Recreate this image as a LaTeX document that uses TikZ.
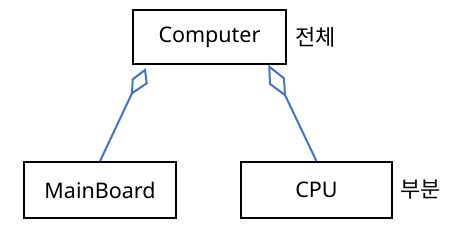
\documentclass[tikz,border=0pt]{standalone}
\usepackage{fontspec}
\setmainfont{Noto Sans}
\newfontfamily\kofont{Noto Sans CJK KR}
\begin{document}
\begin{tikzpicture}[x=1pt,y=-1pt,
  box/.style={draw=black,line width=1.6pt,minimum width=153pt,minimum height=54pt,inner sep=0pt,font=\fontsize{21.5}{24}\selectfont},
  lbl/.style={anchor=west,inner sep=0pt,font=\kofont\fontsize{22}{24}\selectfont},
  conn/.style={draw={rgb,255:red,68;green,114;blue,196},line width=2pt,line join=miter}]
\useasboundingbox (0,0) rectangle (456,236);
\node[box] (comp) at (209.5,37) {Computer};
\node[box,minimum width=152pt,minimum height=56pt] (mb) at (100,190) {MainBoard};
\node[box,minimum width=151pt,minimum height=56pt] (cpu) at (316.5,190) {CPU};
\node[lbl] (whole) at (295,37) {전체};
\node[lbl] (part) at (400,190) {부분};
% left aggregation
\coordinate (d1t) at (145,70);
\coordinate (d1l) at (132.7,79.3);
\coordinate (d1b) at (132,93.3);
\coordinate (d1r) at (146.7,83.3);
\draw[conn] (d1t) -- (d1l) -- (d1b) -- (d1r) -- cycle;
\draw[conn] (d1b) -- (mb.north);
% right aggregation
\coordinate (d2t) at (269.3,66.7);
\coordinate (d2r) at (284,78.3);
\coordinate (d2b) at (285,95);
\coordinate (d2l) at (270,84);
\draw[conn] (d2t) -- (d2r) -- (d2b) -- (d2l) -- cycle;
\draw[conn] (d2b) -- (cpu.north);
\end{tikzpicture}
\end{document}
